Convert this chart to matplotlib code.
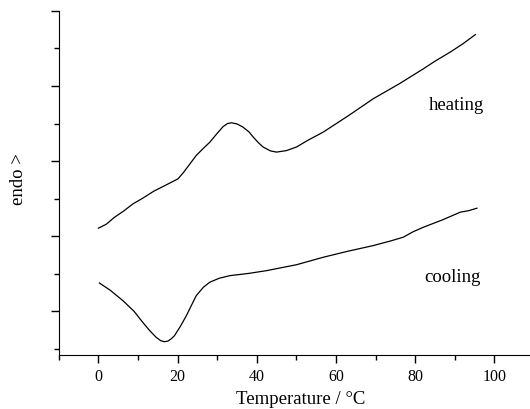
import numpy as np
import matplotlib.pyplot as plt
from matplotlib.ticker import MultipleLocator

plt.rcParams['font.family'] = ['Liberation Serif', 'DejaVu Serif']

# heating curve (temperature in C, signal in arbitrary units)
heat_t = [0, 2, 4, 6.5, 8.7, 11, 14, 17, 20.1, 21.5, 22.5, 24.7, 26.5, 28.1, 30, 31.5, 32.6,
          33.6, 35, 36.5, 38, 39.1, 40.5, 41.6, 43.5, 45, 47.5, 50, 53, 56.8, 63, 69.4, 76,
          82.1, 85, 88.9, 92, 95.2]
heat_y = [1.107, 1.16, 1.25, 1.34, 1.43, 1.5, 1.6, 1.68, 1.764, 1.85, 1.92, 2.075, 2.17,
          2.25, 2.37, 2.46, 2.5, 2.51, 2.495, 2.453, 2.39, 2.32, 2.24, 2.187, 2.135, 2.12,
          2.14, 2.187, 2.28, 2.387, 2.6, 2.83, 3.03, 3.23, 3.33, 3.453, 3.56, 3.684]

# cooling curve
cool_t = [0.25, 3, 6.2, 9, 11.2, 13, 14.6, 15.7, 16.7, 17.6, 18.4, 19.2, 20.7, 22.2, 23.5,
          24.7, 26.5, 28.1, 30.5, 33.2, 38, 42.4, 50, 56.8, 63, 69.4, 74, 77, 79.5, 82.1,
          87, 91.4, 93.5, 95.6]
cool_y = [0.377, 0.28, 0.141, 0.0, -0.147, -0.26, -0.347, -0.39, -0.405, -0.395, -0.365,
          -0.325, -0.2, -0.059, 0.08, 0.208, 0.32, 0.387, 0.44, 0.475, 0.505, 0.541, 0.62,
          0.72, 0.8, 0.875, 0.94, 0.987, 1.06, 1.12, 1.22, 1.32, 1.34, 1.373]

fig = plt.figure(figsize=(5.3, 4.1), dpi=100)
ax = fig.add_axes([0.111, 0.132, 0.889, 0.839])

ax.plot(heat_t, heat_y, color='black', lw=0.9)
ax.plot(cool_t, cool_y, color='black', lw=0.9)

ax.text(90.5, 2.76, 'heating', ha='center', va='center', fontsize=13.5)
ax.text(89.3, 0.467, 'cooling', ha='center', va='center', fontsize=13.5)

ax.set_xlim(-10, 109)
ax.set_ylim(-0.58, 4.0)
ax.xaxis.set_major_locator(MultipleLocator(20))
ax.xaxis.set_minor_locator(MultipleLocator(10))
ax.yaxis.set_major_locator(MultipleLocator(1))
ax.yaxis.set_minor_locator(MultipleLocator(0.5))
ax.set_yticklabels([])
ax.tick_params(which='major', length=6, width=1, labelsize=11.5, direction='out')
ax.tick_params(which='minor', length=3.5, width=1, direction='out')
ax.spines['top'].set_visible(False)
ax.spines['right'].set_visible(False)

ax.set_xlabel('Temperature / °C', fontsize=13.5, va='baseline')
ax.set_ylabel('endo >', fontsize=13.5)
ax.xaxis.set_label_coords(0.514, -0.14)
ax.yaxis.set_label_coords(-0.068, 0.513)

plt.savefig('out.png')
